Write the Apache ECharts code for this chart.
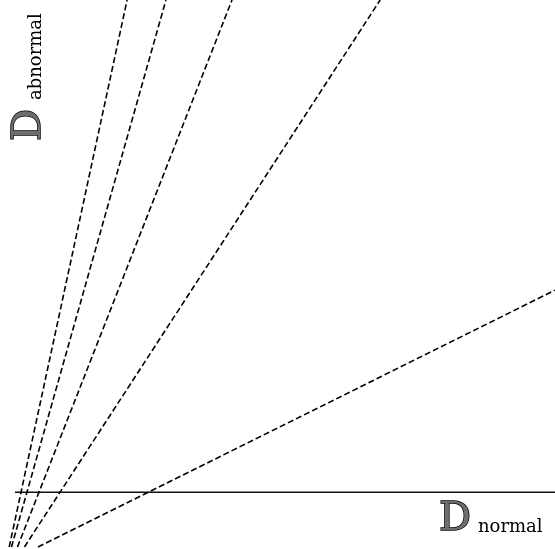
<!DOCTYPE html>
<html>
<head>
<meta charset="utf-8">
<style>
  html, body { margin: 0; padding: 0; background: #fff; }
  #chart { width: 555px; height: 549px; }
</style>
<script src="https://cdn.jsdelivr.net/npm/echarts@6/dist/echarts.min.js"></script>
</head>
<body>
<div id="chart"></div>
<script>
// Rays drawn in the (D normal, D abnormal) plane, each given by its two end points.
const rayStartX = [1.66, 2.07, 3.15, 4.4, 6.85];
const rayStartY = [-10, -10, -10, -10, -10];
const rayEndX = [22.9, 29.9, 41.8, 68.5, 100];
const rayEndY = [90, 90, 90, 90, 36.95];

// Reference line D abnormal = 0
const baseX = [2.7, 100];
const baseY = [0, 0];

// Axis titles
const xTitleMain = 'D';
const xTitleSub = 'normal';
const yTitleMain = 'D';
const yTitleSub = 'abnormal';

const chart = echarts.init(document.getElementById('chart'), null, { renderer: 'canvas' });

const raySeries = rayStartX.map((sx, i) => ({
  type: 'line',
  data: [[sx, rayStartY[i]], [rayEndX[i], rayEndY[i]]],
  symbol: 'none',
  clip: true,
  lineStyle: { color: '#000', width: 1.6, type: [6, 3] },
  silent: true
}));

const baseSeries = {
  type: 'line',
  data: baseX.map((x, i) => [x, baseY[i]]),
  symbol: 'none',
  lineStyle: { color: '#111', width: 1.6, type: 'solid' },
  silent: true
};

const bigFont = '40px "DejaVu Serif"';
const smallFont = '18px "DejaVu Serif"';

chart.setOption({
  animation: false,
  backgroundColor: '#fff',
  grid: { left: 0, right: 0, top: 0, bottom: 2 },
  xAxis: {
    type: 'value', min: 0, max: 100,
    axisLine: { show: false }, axisTick: { show: false },
    axisLabel: { show: false }, splitLine: { show: false }
  },
  yAxis: {
    type: 'value', min: -10, max: 90,
    axisLine: { show: false }, axisTick: { show: false },
    axisLabel: { show: false }, splitLine: { show: false }
  },
  series: [baseSeries].concat(raySeries),
  graphic: [
    {
      type: 'text', x: 439, y: 520,
      style: { text: xTitleMain, font: bigFont, fill: '#6e6e6e', stroke: '#000', lineWidth: 1.5,
               align: 'left', verticalAlign: 'middle' }
    },
    {
      type: 'text', x: 478, y: 527,
      style: { text: xTitleSub, font: smallFont, fill: '#000',
               align: 'left', verticalAlign: 'middle' }
    },
    {
      type: 'text', x: 30, y: 141, rotation: Math.PI / 2,
      style: { text: yTitleMain, font: bigFont, fill: '#6e6e6e', stroke: '#000', lineWidth: 1.5,
               align: 'left', verticalAlign: 'middle' }
    },
    {
      type: 'text', x: 36, y: 100, rotation: Math.PI / 2,
      style: { text: yTitleSub, font: smallFont, fill: '#000',
               align: 'left', verticalAlign: 'middle' }
    }
  ]
});
</script>
</body>
</html>
